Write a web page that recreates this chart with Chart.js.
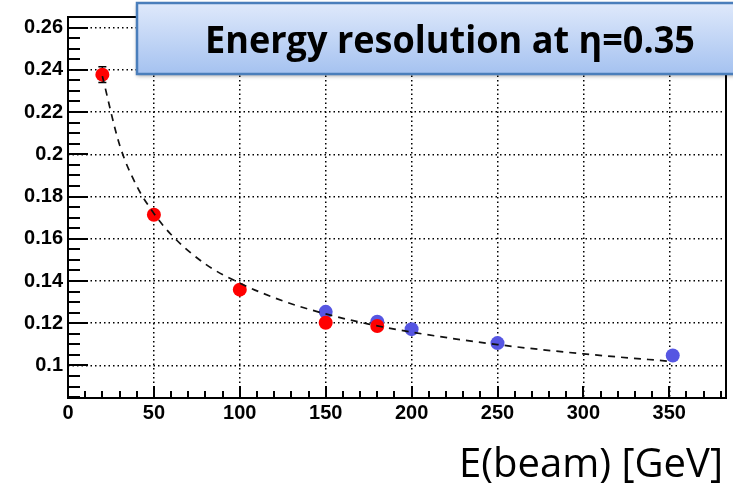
<!DOCTYPE html>
<html>
<head>
<meta charset="utf-8">
<script src="https://cdn.jsdelivr.net/npm/chart.js@4"></script>
<style>
    body { margin: 0; background: #fff; }
    #chart0 { display: block; }
</style>
</head>
<body>
<canvas id="chart0" width="733" height="484"></canvas>
<script>
// beam energies [GeV] and resolution, two data sets
let redE = [20, 50, 100, 150, 180];
let redRes = [0.2377, 0.1714, 0.1359, 0.1202, 0.1187];
let redErr = [0.0037, 0.002, 0.0015, 0.0015, 0.0015];

let blueE = [150, 180, 200, 250, 352];
let blueRes = [0.1254, 0.1207, 0.1172, 0.1106, 0.1047];

// fitted curve, sampled
let curveE = [20, 30, 40, 50, 60, 80, 100, 125, 150, 175, 200, 250, 300, 350];
let curveRes = [0.237, 0.2045, 0.185, 0.172, 0.162, 0.148, 0.139, 0.1306, 0.1244, 0.1196, 0.1158, 0.1099, 0.1055, 0.102];

let xTicks = [0, 50, 100, 150, 200, 250, 300, 350];
let yTicks = [0.1, 0.12, 0.14, 0.16, 0.18, 0.2, 0.22, 0.24, 0.26];

let chart0 = document.getElementById('chart0');

function toPoints(xs, ys) {
    return xs.map((x, i) => ({ x: x, y: ys[i] }));
}

// frame, inward ticks, error bars, axis title and the title box
let rootStyle = {
    id: 'rootStyle',
    beforeDatasetsDraw(chart) {
        let ctx = chart.ctx;
        let xs = chart.scales.x, ys = chart.scales.y;
        ctx.save();
        ctx.strokeStyle = '#000';
        ctx.lineWidth = 1.5;
        redE.forEach((e, i) => {
            let px = xs.getPixelForValue(e);
            let y1 = ys.getPixelForValue(redRes[i] + redErr[i]);
            let y2 = ys.getPixelForValue(redRes[i] - redErr[i]);
            ctx.beginPath();
            ctx.moveTo(px, y1); ctx.lineTo(px, y2);
            ctx.moveTo(px - 4, y1); ctx.lineTo(px + 4, y1);
            ctx.moveTo(px - 4, y2); ctx.lineTo(px + 4, y2);
            ctx.stroke();
        });
        ctx.restore();
    },
    afterDraw(chart) {
        let ctx = chart.ctx;
        let a = chart.chartArea;
        let xs = chart.scales.x, ys = chart.scales.y;
        ctx.save();
        ctx.strokeStyle = '#000';
        ctx.lineWidth = 2;

        // ticks on the left axis
        ctx.beginPath();
        for (let v = 0.085; v <= ys.max; v += 0.005) {
            let py = Math.round(ys.getPixelForValue(v));
            let major = Math.abs(v * 50 - Math.round(v * 50)) < 1e-6;
            ctx.moveTo(a.left, py);
            ctx.lineTo(a.left + (major ? 20 : 12), py);
        }
        // ticks on the bottom axis
        for (let v = 10; v <= xs.max; v += 10) {
            let px = Math.round(xs.getPixelForValue(v));
            let major = v % 50 === 0;
            ctx.moveTo(px, a.bottom);
            ctx.lineTo(px, a.bottom - (major ? 12 : 7));
        }
        ctx.stroke();
        ctx.strokeRect(a.left, a.top, a.right - a.left, a.bottom - a.top);

        // axis title
        ctx.fillStyle = '#000';
        ctx.font = '40px "Open Sans"';
        ctx.textAlign = 'right';
        ctx.textBaseline = 'alphabetic';
        ctx.fillText('E(beam) [GeV]', 723, 477);

        // title box
        let bx = 137, by = 3, bw = 600, bh = 71;
        let grad = ctx.createLinearGradient(0, by, 0, by + bh);
        grad.addColorStop(0, '#dfe9fb');
        grad.addColorStop(1, '#a5c2f0');
        ctx.shadowColor = 'rgba(0,0,0,0.35)';
        ctx.shadowBlur = 4;
        ctx.shadowOffsetY = 2;
        ctx.fillStyle = grad;
        ctx.fillRect(bx, by, bw, bh);
        ctx.shadowColor = 'transparent';
        ctx.strokeStyle = '#4a7ebb';
        ctx.lineWidth = 2.5;
        ctx.strokeRect(bx, by, bw, bh);

        ctx.fillStyle = '#000';
        ctx.font = 'bold 37px "Open Sans"';
        ctx.textAlign = 'center';
        ctx.fillText('Energy resolution at η=0.35', 450, 53, 490);
        ctx.restore();
    }
};

let tickFont = { family: 'Liberation Sans', size: 20, weight: 'bold' };

new Chart(chart0, {
    type: 'scatter',
    data: {
        datasets: [
            {
                type: 'line',
                data: toPoints(curveE, curveRes),
                borderColor: '#111',
                borderWidth: 1.7,
                borderDash: [7, 6],
                pointRadius: 0,
                fill: false,
                cubicInterpolationMode: 'monotone'
            },
            {
                data: toPoints(redE, redRes),
                backgroundColor: '#ff0000',
                borderWidth: 0,
                pointRadius: 7
            },
            {
                data: toPoints(blueE, blueRes),
                backgroundColor: '#5656e2',
                borderWidth: 0,
                pointRadius: 7
            }
        ]
    },
    options: {
        responsive: false,
        animation: false,
        layout: {
            padding: { top: 12, right: 3, left: 0, bottom: 0 }
        },
        plugins: {
            legend: { display: false },
            tooltip: { enabled: false }
        },
        scales: {
            x: {
                type: 'linear',
                min: 0,
                max: 383,
                afterBuildTicks: scale => { scale.ticks = xTicks.map(v => ({ value: v })); },
                afterFit: scale => { scale.height = 86; },
                grid: { color: '#000', lineWidth: 1.5, drawTicks: false },
                border: { display: false, dash: [1.5, 3] },
                ticks: { color: '#000', font: tickFont, padding: 3, maxRotation: 0 }
            },
            y: {
                type: 'linear',
                min: 0.0846,
                max: 0.265,
                afterBuildTicks: scale => { scale.ticks = yTicks.map(v => ({ value: v })); },
                afterFit: scale => { scale.width = 68; },
                grid: { color: '#000', lineWidth: 1.5, drawTicks: false },
                border: { display: false, dash: [1.5, 3] },
                ticks: {
                    color: '#000',
                    font: tickFont,
                    padding: 5,
                    callback: v => String(Math.round(v * 100) / 100)
                }
            }
        }
    },
    plugins: [rootStyle]
});
</script>
</body>
</html>
